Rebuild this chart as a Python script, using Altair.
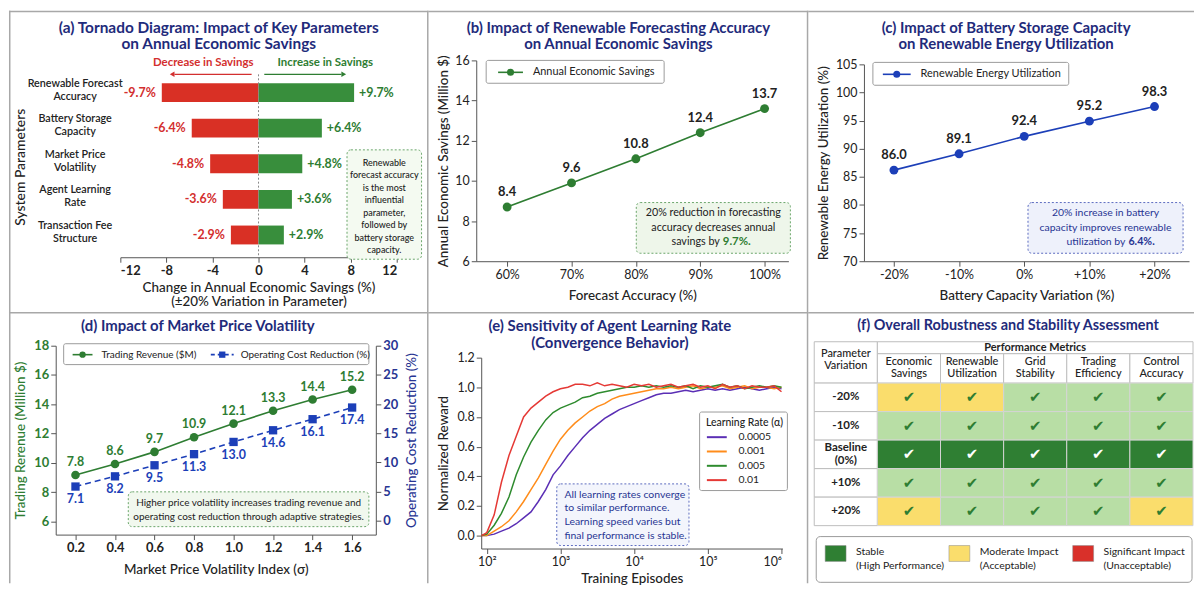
import altair as alt
import pandas as pd

FONT = "Lato"
NAVY = "#1f2b7b"
INK = "#222222"
BORDER = "#a8a8a8"
GREEN = "#2e7d32"
BAR_RED = "#d93025"
BAR_GREEN = "#388e3c"
LBL_RED = "#d32f2f"
BLUE = "#1c3fb8"
BLUE_TXT = "#283593"

# ---------------- data ----------------
# (a) tornado
params = ["Renewable Forecast|Accuracy", "Battery Storage|Capacity", "Market Price|Volatility",
          "Agent Learning|Rate", "Transaction Fee|Structure"]
sens_pct = [9.7, 6.4, 4.8, 3.6, 2.9]
bar_dec = [-8.4, -5.8, -4.2, -3.1, -2.4]
bar_inc = [8.3, 5.5, 3.8, 2.9, 2.2]

# (b) forecasting accuracy
accuracy = [60, 70, 80, 90, 100]
savings_pos = [8.7, 9.9, 11.1, 12.4, 13.6]
savings_lbl = ["8.4", "9.6", "10.8", "12.4", "13.7"]

# (c) battery capacity
batt_var = [-20, -10, 0, 10, 20]
util_pos = [86.2, 89.1, 92.2, 94.9, 97.5]
util_lbl = ["86.0", "89.1", "92.4", "95.2", "98.3"]

# (d) market price volatility
vol_idx = [0.2, 0.4, 0.6, 0.8, 1.0, 1.2, 1.4, 1.6]
rev_pos = [9.17, 9.92, 10.75, 11.75, 12.68, 13.56, 14.33, 14.99]
rev_lbl = ["7.8", "8.6", "9.7", "10.9", "12.1", "13.3", "14.4", "15.2"]
cost_pos = [5.85, 7.6, 9.5, 11.4, 13.5, 15.5, 17.4, 19.4]
cost_lbl = ["7.1", "8.2", "9.5", "11.3", "13.0", "14.6", "16.1", "17.4"]

# (e) learning-rate convergence
episodes = [85, 100, 126, 158, 200, 251, 316, 398, 501, 631, 794, 1000, 1259, 1585, 1995,
            2512, 3162, 3981, 5012, 6310, 7943, 10000, 12589, 15849, 19953, 25119, 31623,
            39811, 50119, 63096, 79433, 100000, 125893, 158489, 199526, 251189, 316228,
            398107, 501187, 630957, 794328, 1000000]
rates = ["0.0005", "0.001", "0.005", "0.01"]
rate_colors = ["#5b2fb5", "#ff8c1a", "#2e8b2e", "#e53935"]
reward_0005 = [0.0, 0.0, 0.01, 0.03, 0.05, 0.08, 0.12, 0.16, 0.23, 0.31, 0.41, 0.47, 0.54, 0.60,
               0.66, 0.71, 0.75, 0.79, 0.82, 0.85, 0.87, 0.89, 0.91, 0.93, 0.95, 0.96, 0.96, 0.97,
               0.98, 0.97, 0.98, 0.99, 0.98, 0.99, 0.98, 0.99, 1.00, 0.99, 0.98, 0.99, 1.00, 0.99]
reward_001 = [0.0, 0.0, 0.03, 0.06, 0.10, 0.16, 0.23, 0.31, 0.39, 0.48, 0.57, 0.65, 0.71, 0.76,
              0.80, 0.84, 0.87, 0.89, 0.92, 0.94, 0.95, 0.96, 0.97, 0.98, 0.99, 0.99, 1.00, 0.99,
              1.00, 1.01, 0.99, 1.00, 1.00, 1.01, 0.99, 1.00, 1.01, 0.99, 1.00, 1.00, 0.99, 1.00]
reward_005 = [0.0, 0.01, 0.07, 0.15, 0.26, 0.41, 0.53, 0.63, 0.71, 0.78, 0.83, 0.86, 0.88, 0.90,
              0.93, 0.94, 0.96, 0.97, 0.98, 0.99, 1.00, 1.00, 1.01, 1.00, 1.01, 1.00, 1.01, 1.00,
              1.01, 0.99, 1.01, 1.00, 1.01, 1.02, 1.00, 1.01, 0.99, 1.00, 1.01, 1.00, 1.01, 1.00]
reward_01 = [0.0, 0.02, 0.14, 0.36, 0.54, 0.67, 0.80, 0.86, 0.90, 0.94, 0.97, 0.99, 1.00, 1.02,
             1.02, 1.01, 1.03, 1.01, 1.02, 1.01, 1.00, 1.02, 1.01, 1.02, 1.00, 1.01, 1.02, 1.00,
             1.01, 1.02, 1.00, 1.01, 0.99, 1.02, 1.00, 1.01, 0.99, 1.01, 1.00, 1.00, 1.01, 0.97]

# (f) robustness table
variations = ["-20%", "-10%", "Baseline|(0%)", "+10%", "+20%"]
metrics = ["Economic|Savings", "Renewable|Utilization", "Grid|Stability", "Trading|Efficiency",
           "Control|Accuracy"]
status = [["Moderate", "Moderate", "Stable", "Stable", "Stable"],
          ["Stable", "Stable", "Stable", "Stable", "Stable"],
          ["Baseline", "Baseline", "Baseline", "Baseline", "Baseline"],
          ["Stable", "Stable", "Stable", "Stable", "Stable"],
          ["Moderate", "Stable", "Stable", "Stable", "Moderate"]]
status_names = ["Baseline", "Stable", "Moderate", "Significant"]
status_colors = ["#2f7f33", "#b8dea5", "#fadd6c", "#d9302a"]

# ---------------- helpers ----------------
ONE = pd.DataFrame({"k": [0]})


def base():
    return alt.Chart(ONE)


class P:
    """Decoration helper: coordinates are given relative to a panel's plot origin."""

    def __init__(self, ox, oy):
        self.ox, self.oy = ox, oy

    def box(self, x0, x1, y0, y1, **kw):
        return base().mark_rect(**kw).encode(
            x=alt.value(self.ox + x0), x2=alt.value(self.ox + x1),
            y=alt.value(self.oy + y0), y2=alt.value(self.oy + y1))

    def label(self, x, y, s, **kw):
        opts = dict(font=FONT, fontSize=11, color=INK, align="center", baseline="middle",
                    lineBreak="\n")
        opts.update(kw)
        return base().mark_text(**opts).encode(
            x=alt.value(self.ox + x), y=alt.value(self.oy + y), text=alt.value(s))

    def hline(self, x0, x1, y, **kw):
        return base().mark_rule(**kw).encode(
            x=alt.value(self.ox + x0), x2=alt.value(self.ox + x1), y=alt.value(self.oy + y))

    def vline(self, x, y0, y1, **kw):
        return base().mark_rule(**kw).encode(
            x=alt.value(self.ox + x), y=alt.value(self.oy + y0), y2=alt.value(self.oy + y1))

    def title(self, x, y, s, size=15):
        return self.label(x, y, s, fontSize=size, fontWeight="bold", color=NAVY, lineHeight=17)

    def note(self, x0, x1, y0, y1, fill, stroke):
        return self.box(x0, x1, y0, y1, fill=fill, stroke=stroke, strokeDash=[2, 2],
                        strokeWidth=1, cornerRadius=4)

    def legbox(self, x0, x1, y0, y1):
        return self.box(x0, x1, y0, y1, fill="white", stroke="#9a9a9a", strokeWidth=1,
                        cornerRadius=2)


def frame_lines(W, H, left=False, right=False):
    f = P(0, 0)
    lay = [f.hline(0, W, 0.75, color=BORDER, strokeWidth=1.5)]
    if left:
        lay.append(f.vline(0.75, 0, H, color=BORDER, strokeWidth=1.5))
    if right:
        lay.append(f.vline(W - 0.75, 0, H, color=BORDER, strokeWidth=1.5))
    return lay


ROW1_H, ROW2_H = 303, 273
COL_W = [422, 382, 388]

# ---------------- panel (a) ----------------
oxa, oya, Wa, Ha = 112, 60, 278, 188
Pa = P(oxa, oya)
dfa = pd.DataFrame({
    "param": params * 2,
    "val": bar_dec + bar_inc,
    "side": ["dec"] * 5 + ["inc"] * 5,
    "txt": [f"-{v}%" for v in sens_pct] + [f"+{v}%" for v in sens_pct],
})
xa = alt.X("val:Q", scale=alt.Scale(domain=[-12, 12], range=[oxa, oxa + Wa], nice=False, zero=False),
           axis=alt.Axis(values=[-12, -8, -4, 0, 4, 8, 12], offset=oya + Ha - ROW1_H,
                         labelExpr="datum.value < 0 ? '-' + abs(datum.value) : '' + datum.value",
                         title=["Change in Annual Economic Savings (%)", "(±20% Variation in Parameter)"],
                         labelFontWeight="bold", labelFontSize=13, titlePadding=3,
                         titleFontSize=13.5, titleLineHeight=14.5))
ya = alt.Y("param:N", sort=params,
           scale=alt.Scale(range=[oya, oya + Ha], paddingInner=0.47, paddingOuter=0.36),
           axis=alt.Axis(title="System Parameters", labelExpr="split(datum.label, '|')",
                         labelAlign="center", labelBaseline="middle", labelPadding=46,
                         labelOffset=-9, offset=-oxa,
                         ticks=False, tickSize=0, domain=False, labelFontSize=10.8,
                         labelFontWeight=600, labelLineHeight=13, titleX=-100, titleY=oya + 97,
                         titleAlign="center", titleBaseline="middle", titleFontSize=14,
                         titleLimit=400))
bars_a = alt.Chart(dfa).mark_bar().encode(
    x=xa, y=ya,
    color=alt.Color("side:N", scale=alt.Scale(domain=["dec", "inc"], range=[BAR_RED, BAR_GREEN]),
                    legend=None))
tdec_a = alt.Chart(dfa).transform_filter("datum.side == 'dec'").mark_text(
    align="right", dx=-6, fontWeight="bold", fontSize=12.5, font=FONT, color=LBL_RED
).encode(x=xa, y=ya, text="txt:N")
tinc_a = alt.Chart(dfa).transform_filter("datum.side == 'inc'").mark_text(
    align="left", dx=5, fontWeight="bold", fontSize=12.5, font=FONT, color=GREEN
).encode(x=xa, y=ya, text="txt:N")
zero_a = base().mark_rule(color="#888", strokeDash=[2, 2], strokeWidth=1).encode(
    x=alt.datum(0), y=alt.value(oya + 4), y2=alt.value(oya + Ha))
arr_dec = base().mark_rule(color=LBL_RED, strokeWidth=1.2).encode(
    x=alt.datum(-0.6), x2=alt.datum(-7.3), y=alt.value(oya + 4))
head_dec = base().mark_point(shape="triangle-left", filled=True, size=30, color=LBL_RED,
                             opacity=1).encode(x=alt.datum(-7.5), y=alt.value(oya + 4))
arr_inc = base().mark_rule(color=GREEN, strokeWidth=1.2).encode(
    x=alt.datum(0.5), x2=alt.datum(7.2), y=alt.value(oya + 4))
head_inc = base().mark_point(shape="triangle-right", filled=True, size=30, color=GREEN,
                             opacity=1).encode(x=alt.datum(7.4), y=alt.value(oya + 4))
txt_dec = base().mark_text(font=FONT, fontSize=11.5, fontWeight="bold", color=LBL_RED).encode(
    x=alt.datum(-4.8), y=alt.value(oya - 7), text=alt.value("Decrease in Savings"))
txt_inc = base().mark_text(font=FONT, fontSize=11.5, fontWeight="bold", color=GREEN).encode(
    x=alt.datum(5.8), y=alt.value(oya - 7), text=alt.value("Increase in Savings"))

pa = alt.layer(
    *frame_lines(COL_W[0], ROW1_H, left=True, right=True),
    bars_a, tdec_a, tinc_a, zero_a, arr_dec, head_dec, arr_inc, head_inc, txt_dec, txt_inc,
    Pa.title(99, -43, "(a) Tornado Diagram: Impact of Key Parameters\non Annual Economic Savings",
             size=15.5),
    Pa.note(228, 303, 80, 190, "#f4faf1", "#6aa56a"),
    Pa.label(265.5, 93, "Renewable\nforecast accuracy\nis the most\ninfluential\nparameter,\nfollowed by\n"
                        "battery storage\ncapacity.", fontSize=9, lineHeight=12.6, fontWeight=500),
).properties(width=COL_W[0], height=ROW1_H)

# ---------------- panel (b) ----------------
oxb, oyb, Wb, Hb = 48, 50, 314, 202
Pb = P(oxb, oyb)
dfb = pd.DataFrame({"acc": accuracy, "sav": savings_pos, "lbl": savings_lbl})
xb = alt.X("acc:Q", scale=alt.Scale(domain=[55.2, 103.7], range=[oxb, oxb + Wb], nice=False, zero=False),
           axis=alt.Axis(values=accuracy, labelExpr="datum.value + '%'", offset=oyb + Hb - ROW1_H,
                         title="Forecast Accuracy (%)", titlePadding=8))
yb = alt.Y("sav:Q", scale=alt.Scale(domain=[6, 16], range=[oyb + Hb, oyb], nice=False, zero=False),
           axis=alt.Axis(values=[6, 8, 10, 12, 14, 16], title="Annual Economic Savings (Million $)",
                         offset=-oxb, titleX=-33, titleY=oyb + Hb / 2, titleAlign="center",
                         titleBaseline="middle", titleLimit=400))
line_b = alt.Chart(dfb).mark_line(color=GREEN, strokeWidth=1.6).encode(x=xb, y=yb)
pts_b = alt.Chart(dfb).mark_circle(size=80, color=GREEN, opacity=1).encode(x=xb, y=yb)
txt_b = alt.Chart(dfb).mark_text(dy=-15, font=FONT, fontSize=13, fontWeight="bold",
                                 color=INK).encode(x=xb, y=yb, text="lbl:N")
pb = alt.layer(
    *frame_lines(COL_W[1], ROW1_H, right=True),
    line_b, pts_b, txt_b,
    Pb.title(143, -33, "(b) Impact of Renewable Forecasting Accuracy\non Annual Economic Savings"),
    Pb.legbox(10, 189, 0, 23),
    Pb.hline(22, 47, 12, color=GREEN, strokeWidth=1.6),
    base().mark_circle(size=50, color=GREEN, opacity=1).encode(
        x=alt.value(oxb + 34.5), y=alt.value(oyb + 12)),
    Pb.label(57, 12, "Annual Economic Savings", align="left", fontSize=11),
    Pb.note(161, 316, 143, 194, "#eef6ea", "#6aa56a"),
    Pb.label(238.5, 154, "20% reduction in forecasting\naccuracy decreases annual",
             fontSize=10.8, lineHeight=14.5),
    Pb.label(245, 183, "savings by", align="right", fontSize=10.8),
    Pb.label(248, 183, "9.7%.", align="left", fontSize=11.5, fontWeight="bold", color=GREEN),
).properties(width=COL_W[1], height=ROW1_H)

# ---------------- panel (c) ----------------
oxc, oyc, Wc, Hc = 56, 54, 327, 198
Pc = P(oxc, oyc)
dfc = pd.DataFrame({"var": batt_var, "util": util_pos, "lbl": util_lbl})
xc = alt.X("var:Q", scale=alt.Scale(domain=[-24.6, 25.3], range=[oxc, oxc + Wc], nice=False, zero=False),
           axis=alt.Axis(values=batt_var, offset=oyc + Hc - ROW1_H,
                         labelExpr="datum.value > 0 ? '+' + datum.value + '%' : datum.value + '%'",
                         title="Battery Capacity Variation (%)", titlePadding=8))
yc = alt.Y("util:Q", scale=alt.Scale(domain=[70, 105], range=[oyc + Hc, oyc], nice=False, zero=False),
           axis=alt.Axis(values=[70, 75, 80, 85, 90, 95, 100, 105], offset=-oxc,
                         title="Renewable Energy Utilization (%)", titleLimit=400,
                         titleX=-41, titleY=oyc + Hc / 2, titleAlign="center", titleBaseline="middle"))
line_c = alt.Chart(dfc).mark_line(color=BLUE, strokeWidth=1.6).encode(x=xc, y=yc)
pts_c = alt.Chart(dfc).mark_circle(size=80, color=BLUE, opacity=1).encode(x=xc, y=yc)
txt_c = alt.Chart(dfc).mark_text(dy=-15, font=FONT, fontSize=13, fontWeight="bold",
                                 color=INK).encode(x=xc, y=yc, text="lbl:N")
pc = alt.layer(
    *frame_lines(COL_W[2], ROW1_H),
    line_c, pts_c, txt_c,
    Pc.title(143, -37, "(c) Impact of Battery Storage Capacity\non Renewable Energy Utilization"),
    Pc.legbox(9, 206, -2, 21),
    Pc.hline(19, 47, 10, color=BLUE, strokeWidth=1.6),
    base().mark_circle(size=50, color=BLUE, opacity=1).encode(
        x=alt.value(oxc + 33), y=alt.value(oyc + 10)),
    Pc.label(57, 10, "Renewable Energy Utilization", align="left", fontSize=11),
    Pc.note(165, 321, 139, 190, "#eef1fb", "#5c6bc0"),
    Pc.label(243, 150, "20% increase in battery\ncapacity improves renewable",
             fontSize=10.5, lineHeight=14.5, color=BLUE_TXT),
    Pc.label(263, 179, "utilization by", align="right", fontSize=10.5, color=BLUE_TXT),
    Pc.label(266, 179, "6.4%.", align="left", fontSize=10.8, fontWeight="bold", color=BLUE_TXT),
).properties(width=COL_W[2], height=ROW1_H)

# ---------------- panel (d) ----------------
oxd, oyd, Wd, Hd = 47, 34, 322, 190
Pd = P(oxd, oyd)
dfd = pd.DataFrame({"vol": vol_idx, "rev": rev_pos, "rev_l": rev_lbl,
                    "cost": cost_pos, "cost_l": cost_lbl})
xd = alt.X("vol:Q", scale=alt.Scale(domain=[0.1, 1.72], range=[oxd, oxd + Wd], nice=False, zero=False),
           axis=alt.Axis(values=vol_idx, format=".1f", title="Market Price Volatility Index (σ)",
                         offset=oyd + Hd - ROW2_H,
                         labelFontWeight="bold", labelFontSize=13, titlePadding=8))
yl = alt.Y("rev:Q", scale=alt.Scale(domain=[5.1, 18], range=[oyd + Hd, oyd], nice=False, zero=False),
           axis=alt.Axis(values=[6, 8, 10, 12, 14, 16, 18], title="Trading Rerenue (Million $)",
                         offset=-oxd, labelColor=GREEN, titleColor=GREEN, labelFontWeight="bold",
                         labelFontSize=13, titleX=-35, titleY=oyd + Hd / 2, titleAlign="center",
                         titleBaseline="middle", titleLimit=400))
yr = alt.Y("cost:Q", scale=alt.Scale(domain=[-2.39, 30], range=[oyd + Hd, oyd], nice=False, zero=False),
           axis=alt.Axis(orient="right", values=[0, 5, 10, 15, 20, 25, 30],
                         offset=oxd + Wd - COL_W[0],
                         title="Operating Cost Reduction (%)", labelColor=BLUE_TXT,
                         titleColor=BLUE_TXT, labelFontWeight="bold", labelFontSize=13,
                         titleAngle=270, titleX=36, titleY=oyd + Hd / 2, titleAlign="center",
                         titleBaseline="middle", titleLimit=400))
left_d = alt.layer(
    alt.Chart(dfd).mark_line(color=GREEN, strokeWidth=1.6).encode(x=xd, y=yl),
    alt.Chart(dfd).mark_circle(size=75, color=GREEN, opacity=1).encode(x=xd, y=yl),
    alt.Chart(dfd).mark_text(dy=-13, font=FONT, fontSize=12.5, fontWeight="bold",
                             color=GREEN).encode(x=xd, y=yl, text="rev_l:N"),
)
right_d = alt.layer(
    alt.Chart(dfd).mark_line(color=BLUE, strokeWidth=1.6, strokeDash=[6, 4]).encode(x=xd, y=yr),
    alt.Chart(dfd).mark_square(size=70, color=BLUE, opacity=1).encode(x=xd, y=yr),
    alt.Chart(dfd).mark_text(dy=13, font=FONT, fontSize=12.5, fontWeight="bold",
                             color=BLUE).encode(x=xd, y=yr, text="cost_l:N"),
)
pd_ = alt.layer(
    *frame_lines(COL_W[0], ROW2_H, left=True, right=True),
    left_d, right_d,
    Pd.title(143, -19.5, "(d) Impact of Market Price Volatility"),
    Pd.legbox(8, 315, -2, 19),
    Pd.hline(17, 37, 9, color=GREEN, strokeWidth=1.6),
    base().mark_circle(size=40, color=GREEN, opacity=1).encode(
        x=alt.value(oxd + 27), y=alt.value(oyd + 9)),
    Pd.label(46, 9, "Trading Revenue ($M)", align="left", fontSize=10),
    Pd.hline(156, 179, 9, color=BLUE, strokeWidth=1.6, strokeDash=[4, 3]),
    base().mark_square(size=40, color=BLUE, opacity=1).encode(
        x=alt.value(oxd + 167.5), y=alt.value(oyd + 9)),
    Pd.label(186, 9, "Operating Cost Reduction (%)", align="left", fontSize=10),
    Pd.note(73, 315, 147, 182, "#f1f8ee", "#6aa56a"),
    Pd.label(194, 158, "Higher price volatility increases trading revenue and\n"
                       "operating cost reduction through adaptive strategies.",
             fontSize=10, lineHeight=14),
).resolve_scale(y="independent").properties(width=COL_W[0], height=ROW2_H)

# ---------------- panel (e) ----------------
oxe, oye, We, He = 53, 46, 303, 192
Pe = P(oxe, oye)
rows = []
for rt, series in zip(rates, [reward_0005, reward_001, reward_005, reward_01]):
    for ep, v in zip(episodes, series):
        rows.append({"ep": ep, "r": v, "rate": rt})
dfe = pd.DataFrame(rows)
xe = alt.X("ep:Q", scale=alt.Scale(type="log", domain=[84, 1.03e6], range=[oxe, oxe + We], nice=False),
           axis=alt.Axis(values=[100, 1000, 10000, 100000, 1000000], offset=oye + He - ROW2_H,
                         labelExpr="'10' + ['⁰','¹','²','³','⁴','⁵','⁶'][round(log(datum.value)/LN10)]",
                         title="Training Episodes", titlePadding=4))
ye = alt.Y("r:Q", scale=alt.Scale(domain=[-0.087, 1.2], range=[oye + He, oye], nice=False, zero=False),
           axis=alt.Axis(values=[0, 0.2, 0.4, 0.6, 0.8, 1.0, 1.2], format=".1f", offset=-oxe,
                         title="Normalized Reward", titleX=-38, titleY=oye + He / 2,
                         titleAlign="center", titleBaseline="middle", titleLimit=400))
lines_e = alt.Chart(dfe).mark_line(strokeWidth=1.5).encode(
    x=xe, y=ye,
    color=alt.Color("rate:N", scale=alt.Scale(domain=rates, range=rate_colors), legend=None))
leg_e = [Pe.legbox(219.7, 308, 54.7, 133.7),
         Pe.label(226, 66, "Learning Rate (α)", align="left", fontSize=10.5, fontWeight=500)]
for i, (rt, col) in enumerate(zip(rates, rate_colors)):
    yy = 80 + 14.4 * i
    leg_e.append(Pe.hline(227, 247, yy, color=col, strokeWidth=2))
    leg_e.append(Pe.label(258.7, yy, rt, align="left", fontSize=10.5))
pe = alt.layer(
    *frame_lines(COL_W[1], ROW2_H, right=True),
    lines_e,
    Pe.title(129.5, -31.3, "(e) Sensitivity of Agent Learning Rate\n(Convergence Behavior)"),
    *leg_e,
    Pe.note(76, 209, 127, 189, "#f3f5fc", "#5c6bc0"),
    Pe.label(83.7, 138, "All learning rates converge\nto similar performance.\n"
                        "Learning speed varies but\nfinal performance is stable.",
             align="left", fontSize=10.5, lineHeight=13.7, color=BLUE_TXT),
).properties(width=COL_W[1], height=ROW2_H)

# ---------------- panel (f) ----------------
oxf, oyf, Wf, Hf = 6, 30, 381, 185
Pf = P(oxf, oyf)
ROW_PX = Hf / 6.45
XS = alt.Scale(domain=[0, 6], range=[oxf, oxf + Wf], nice=False, zero=False)
YS = alt.Scale(domain=[-1.45, 5], range=[oyf, oyf + Hf], nice=False, zero=False)
cells, row_lbls = [], []
for r, var in enumerate(variations):
    n = len(var.split("|"))
    row_lbls.append({"xc": 0.5, "yc": r + 0.5 - (n - 1) * 6.5 / ROW_PX, "t": var.replace("|", "\n")})
    for c, m in enumerate(metrics):
        cells.append({"x0": c + 1, "x1": c + 2, "y0": r, "y1": r + 1, "st": status[r][c],
                      "xc": c + 1.5, "yc": r + 0.5})
dff = pd.DataFrame(cells)
white_cells = [{"x0": 0, "x1": 1, "y0": -1.45, "y1": 0}, {"x0": 1, "x1": 6, "y0": -1.45, "y1": -1.03}]
white_cells += [{"x0": c + 1, "x1": c + 2, "y0": -1.03, "y1": 0} for c in range(len(metrics))]
white_cells += [{"x0": 0, "x1": 1, "y0": r, "y1": r + 1} for r in range(len(variations))]
dfw = pd.DataFrame(white_cells)
hdr = [{"xc": 0.5, "yc": -1.03, "t": "Parameter\nVariation"}]
hdr += [{"xc": c + 1.5, "yc": -0.75, "t": m.replace("|", "\n")} for c, m in enumerate(metrics)]
dfh = pd.DataFrame(hdr)
dfr = pd.DataFrame(row_lbls)


def fx(f):
    return alt.X(f, scale=XS, axis=None)


def fy(f):
    return alt.Y(f, scale=YS, axis=None)


rect_f = alt.Chart(dff).mark_rect(stroke="#d4d4d4", strokeWidth=1).encode(
    x=fx("x0:Q"), x2="x1:Q", y=fy("y0:Q"), y2="y1:Q",
    fill=alt.Fill("st:N", scale=alt.Scale(domain=status_names, range=status_colors), legend=None))
white_f = alt.Chart(dfw).mark_rect(fill="white", stroke="#bdbdbd", strokeWidth=1).encode(
    x=fx("x0:Q"), x2="x1:Q", y=fy("y0:Q"), y2="y1:Q")
hdr_f = alt.Chart(dfh).mark_text(font=FONT, fontSize=11, fontWeight=500, color=INK,
                                 lineBreak="\n", lineHeight=12.5).encode(
    x=fx("xc:Q"), y=fy("yc:Q"), text="t:N")
pm_f = base().mark_text(font=FONT, fontSize=11, fontWeight="bold", color=INK).encode(
    x=alt.X(datum=3.5, scale=XS, axis=None), y=alt.Y(datum=-1.24, scale=YS, axis=None),
    text=alt.value("Performance Metrics"))
rowl_f = alt.Chart(dfr).mark_text(font=FONT, fontSize=11.5, fontWeight="bold", color=INK,
                                  lineBreak="\n", lineHeight=13).encode(
    x=fx("xc:Q"), y=fy("yc:Q"), text="t:N")
chk_dark = alt.Chart(dff).transform_filter("datum.st != 'Baseline'").mark_text(
    font="DejaVu Sans", fontSize=15, color="#2e7d32").encode(
    x=fx("xc:Q"), y=fy("yc:Q"), text=alt.value("✔"))
chk_light = alt.Chart(dff).transform_filter("datum.st == 'Baseline'").mark_text(
    font="DejaVu Sans", fontSize=15, color="white").encode(
    x=fx("xc:Q"), y=fy("yc:Q"), text=alt.value("✔"))
leg_f = [Pf.box(2, 380, 196, 242, fill="white", stroke="#9a9a9a", strokeWidth=1, cornerRadius=4)]
leg_items = [("Stable\n(High Performance)", status_colors[0]),
             ("Moderate Impact\n(Acceptable)", status_colors[2]),
             ("Significant Impact\n(Unacceptable)", status_colors[3])]
for i, (txt, col) in enumerate(leg_items):
    x0 = 11 + 124.5 * i
    leg_f.append(Pf.box(x0, x0 + 21, 205, 221, fill=col, stroke="#888", strokeWidth=0.5))
    leg_f.append(Pf.label(x0 + 31, 212, txt, align="left", fontSize=10.5, lineHeight=14))
pf = alt.layer(
    *frame_lines(COL_W[2], ROW2_H),
    white_f, rect_f, hdr_f, pm_f, rowl_f, chk_dark, chk_light,
    Pf.title(195, -16, "(f) Overall Robustness and Stability Assessment", size=14.5),
    *leg_f,
).properties(width=COL_W[2], height=ROW2_H)

# ---------------- assemble ----------------
chart = alt.concat(pa, pb, pc, pd_, pe, pf, columns=3, spacing=0, bounds="flush").resolve_scale(
    color="independent", fill="independent"
).properties(
    padding=0, background="white"
).configure_view(stroke=None).configure_axis(
    labelFont=FONT, titleFont=FONT, labelFontSize=12.5, titleFontSize=13.5,
    titleFontWeight=500, labelColor=INK, titleColor=INK, domainColor="#555",
    tickColor="#555", grid=False
).configure_text(font=FONT)

chart.save("out.html", embed_options={"renderer": "svg", "actions": False})
